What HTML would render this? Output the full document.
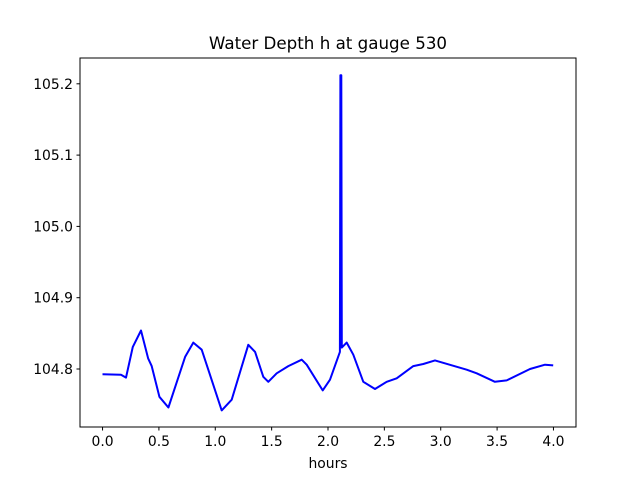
<!DOCTYPE html>
<html><head><meta charset="utf-8"><style>
body{margin:0;background:#fff;}
text{font-family:"DejaVu Sans","Liberation Sans",sans-serif;fill:#000;}
</style></head><body>
<svg id="chart" width="640" height="480" viewBox="0 0 640 480">
<rect width="640" height="480" fill="#fff"/>
<text x="328" y="49" font-size="16.7" text-anchor="middle">Water Depth h at gauge 530</text>
<g id="series"></g>
<rect x="80" y="58" width="496" height="369" fill="none" stroke="#000" stroke-width="1"/>
<g id="xticks"></g><g id="yticks"></g>
<text x="328" y="468" font-size="13.9" text-anchor="middle">hours</text>
</svg>
<script>
const hours=[0,0.164,0.208,0.268,0.341,0.404,0.436,0.504,0.584,0.732,0.805,0.880,0.938,1.057,1.146,1.293,1.353,1.426,1.470,1.545,1.648,1.767,1.811,1.953,2.018,2.106,2.110,2.118,2.122,2.166,2.224,2.313,2.417,2.521,2.609,2.757,2.845,2.949,3.230,3.319,3.481,3.585,3.792,3.925,3.998];
const depth=[104.7926,104.792,104.788,104.831,104.854,104.815,104.804,104.761,104.746,104.817,104.837,104.827,104.799,104.742,104.757,104.834,104.824,104.789,104.782,104.794,104.804,104.813,104.806,104.770,104.785,104.824,105.212,105.212,104.830,104.837,104.820,104.782,104.772,104.782,104.787,104.804,104.807,104.812,104.799,104.794,104.782,104.784,104.800,104.806,104.805];
const xTickLabels=["0.0","0.5","1.0","1.5","2.0","2.5","3.0","3.5","4.0"];
const yTickLabels=["104.8","104.9","105.0","105.1","105.2"];
const X=v=>80+(v+0.2)/4.4*496;
const Y=v=>369-(v-104.8)/0.1*71.3;
const ns="http://www.w3.org/2000/svg";
const s=document.getElementById('series');
const p=document.createElementNS(ns,'polyline');


p.setAttribute('points',hours.map((h,i)=>X(h).toFixed(1)+','+Y(depth[i]).toFixed(1)).join(' '));
p.setAttribute('fill','none');p.setAttribute('stroke','#0000ff');p.setAttribute('stroke-width','2');p.setAttribute('stroke-linejoin','round');
s.appendChild(p);
const xt=document.getElementById('xticks');
xTickLabels.forEach(l=>{const x=X(parseFloat(l));
const t=document.createElementNS(ns,'line');


t.setAttribute('x1',x);t.setAttribute('x2',x);t.setAttribute('y1',427);t.setAttribute('y2',430.5);t.setAttribute('stroke','#000');xt.appendChild(t);
const tx=document.createElementNS(ns,'text');


tx.setAttribute('x',x);tx.setAttribute('y',446);tx.setAttribute('font-size','13.9');tx.setAttribute('text-anchor','middle');tx.textContent=l;xt.appendChild(tx);});
const yt=document.getElementById('yticks');
yTickLabels.forEach(l=>{const y=Y(parseFloat(l));
const t=document.createElementNS(ns,'line');


t.setAttribute('x1',76.5);t.setAttribute('x2',80);t.setAttribute('y1',y);t.setAttribute('y2',y);t.setAttribute('stroke','#000');yt.appendChild(t);
const tx=document.createElementNS(ns,'text');


tx.setAttribute('x',73);tx.setAttribute('y',y+5);tx.setAttribute('font-size','13.9');tx.setAttribute('text-anchor','end');tx.textContent=l;yt.appendChild(tx);});
</script>
</body></html>
